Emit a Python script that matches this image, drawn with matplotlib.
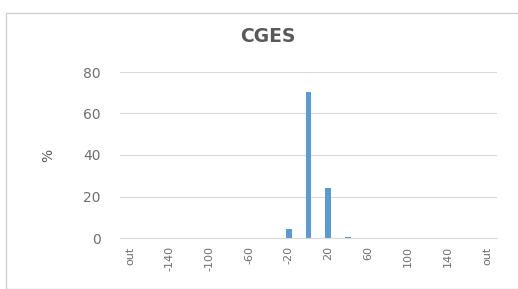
import matplotlib
matplotlib.use("Agg")
import matplotlib.pyplot as plt
from matplotlib.patches import Rectangle

categories = ["out", "-160", "-140", "-120", "-100", "-80", "-60", "-40", "-20", "0",
              "20", "40", "60", "80", "100", "120", "140", "160", "out"]
values = [0, 0, 0, 0, 0, 0, 0, 0, 4.3, 70.5, 24, 0.5, 0, 0, 0, 0, 0, 0, 0]
title = "CGES"
ylabel = "%"

fig = plt.figure(figsize=(5.18, 2.89), dpi=100)
fig.patches.append(Rectangle((0.012, 0.0), 0.99, 0.955, transform=fig.transFigure,
                             fill=False, edgecolor="#d0d0d0", linewidth=1))
ax = fig.add_axes([120/518, 1-238/289, (497-120)/518, (238-72)/289])
x = list(range(len(categories)))
ax.bar(x, values, width=0.3, color="#5b9bd5", zorder=3)
ax.set_xlim(-0.5, len(categories)-0.5)
ax.set_ylim(0, 80)
ax.set_yticks([0, 20, 40, 60, 80])
ax.set_xticks(x[::2])
ax.set_xticklabels(categories[::2], rotation=90, fontsize=8, color="#6f6f6f")
ax.tick_params(axis="y", labelsize=10, colors="#6f6f6f", length=0, pad=14)
ax.tick_params(axis="x", length=0, pad=6)
ax.grid(axis="y", color="#d9d9d9", linewidth=0.8, zorder=0)
for s in ["top", "right", "left"]:
    ax.spines[s].set_visible(False)
ax.spines["bottom"].set_color("#d9d9d9")
ax.set_ylabel(ylabel, fontsize=10, color="#595959", labelpad=20)
fig.text(268/518, 1-37/289, title, ha="center", va="center", fontsize=13.5,
         fontweight="bold", color="#595959")
fig.savefig("out.png", dpi=100)
